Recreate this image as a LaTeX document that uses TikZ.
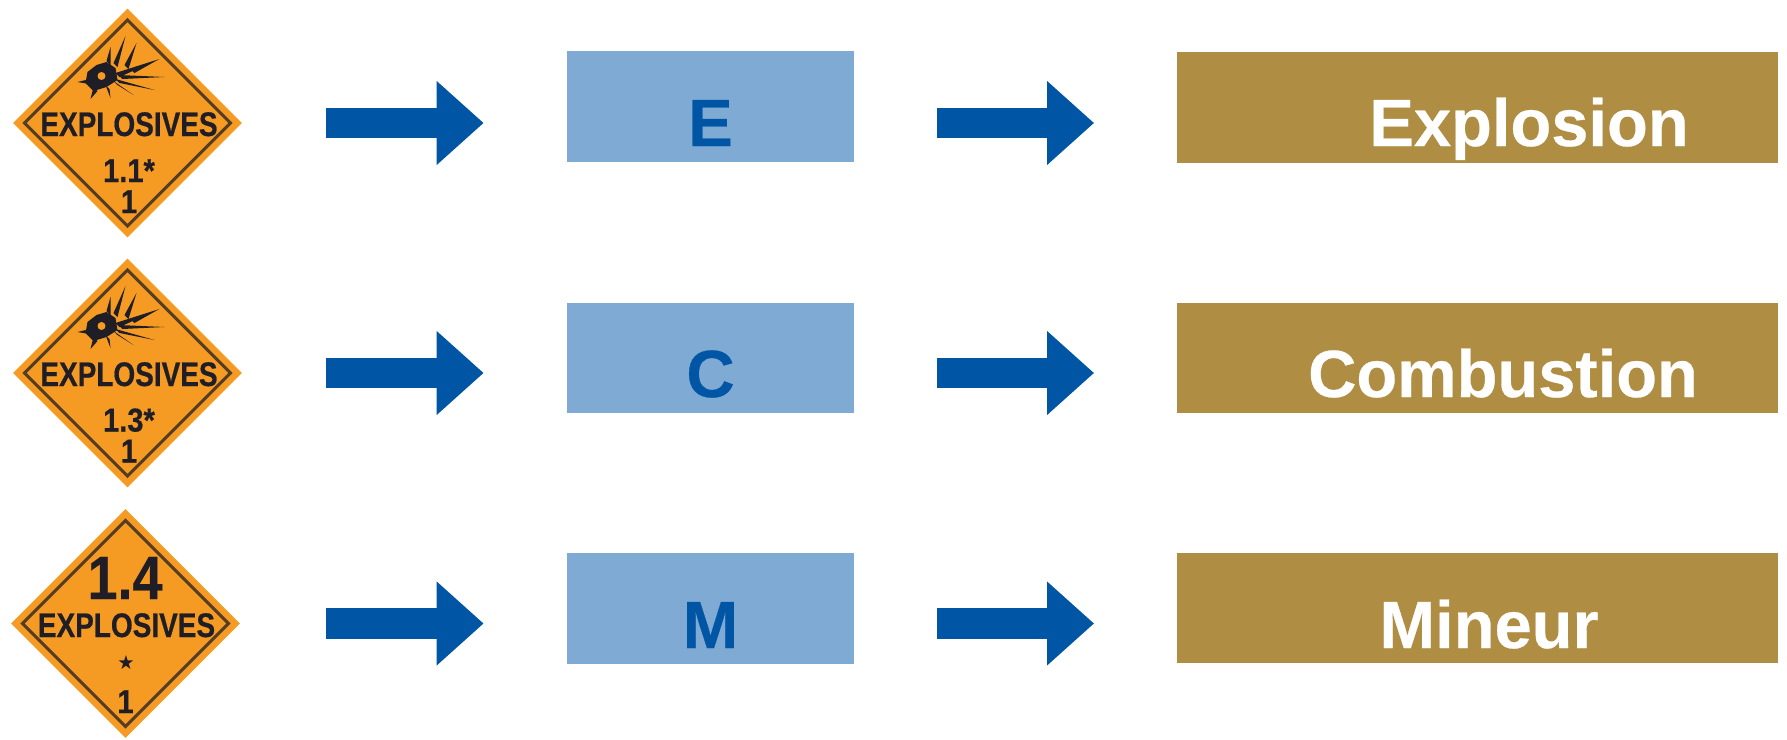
\documentclass[tikz,border=0pt]{standalone}
\usepackage{fontspec}
\setmainfont[BoldFeatures={FakeBold=0.4}]{Liberation Sans}
\newfontfamily\signfont[FakeStretch=0.82,FakeBold=0.5]{Liberation Sans}
\newfontfamily\numfont[FakeStretch=0.88,FakeBold=0.5]{Liberation Sans}
\newfontfamily\starfont{DejaVu Sans}
\usetikzlibrary{arrows.meta,calc,shapes.geometric}

\definecolor{arrowblue}{HTML}{0055A4}
\definecolor{boxblue}{HTML}{7FAAD3}
\definecolor{boxbrown}{HTML}{AF8D43}
\definecolor{signorange}{HTML}{F59A23}
\definecolor{signink}{HTML}{1F1D26}

\tikzset{
  sign/.style={diamond, aspect=1, fill=signorange, inner sep=0pt, minimum size=2.29cm},
  signframe/.style={diamond, aspect=1, draw=signink!75!signorange, line width=0.03cm, inner sep=0pt, minimum size=2.07cm},
  signword/.style={anchor=base, inner sep=0pt, text=signink, font=\signfont\bfseries\fontsize{9.7}{10}\selectfont},
  signnum/.style={anchor=base, inner sep=0pt, text=signink, font=\numfont\bfseries\fontsize{9.4}{10}\selectfont},
  letterbox/.style={fill=boxblue, inner sep=0pt, minimum width=2.86cm, minimum height=1.10cm},
  namebox/.style={fill=boxbrown, inner sep=0pt, minimum width=6.01cm, minimum height=1.10cm},
  lettertext/.style={anchor=base, inner sep=0pt, text=arrowblue, font=\bfseries\fontsize{19}{20}\selectfont},
  nametext/.style={anchor=base, inner sep=0pt, text=white, font=\bfseries\fontsize{19}{20}\selectfont},
  blockarrow/.style={draw=arrowblue, line width=0.30cm,
    -{Triangle[length=0.47cm,width=0.81cm,fill=arrowblue]}},
}

\begin{document}
\begin{tikzpicture}[x=0.01cm,y=-0.01cm]
\useasboundingbox (0,0) rectangle (1787,739);

% signs
\node[sign] (sign1) at (127.5,123) {};
\node[sign] (sign2) at (127.5,373) {};
\node[sign] (sign3) at (125.5,623.5) {};
\foreach \s in {1,2,3}{
  \node[signframe] (frame\s) at (sign\s.center) {};
}

% blast on the first two signs
\foreach \s in {1,2}{
  \begin{scope}[shift={(sign\s.center)}]
    \fill[signink] (-40,-51) -- (-31,-58) -- (-21,-61) -- (-12,-55) -- (-10,-43) -- (-21,-36) -- (-34,-32) -- (-42,-40) -- cycle;
    \fill[signorange] (-26,-47) circle (4);
    \foreach \sx/\sy/\tx/\ty in {-12/-58/-2/-87,-19/-60/-17/-76,-1/-56/9/-80,-10/-48/32/-64,5/-52/30/-63,
      -7/-46/37/-46,-10/-42/27/-33,-12/-40/6/-28,-40/-41/-50/-41,-32/-34/-37/-24,-20/-36/-17/-25}{
      \fill[signink] (\sx-2,\sy-2) -- (\tx,\ty) -- (\sx+2,\sy+2) -- cycle;
    }
  \end{scope}
}

% texts on the signs
\node[signword] (word1) at (129,136) {EXPLOSIVES};
\node[signword] (word2) at (129,386) {EXPLOSIVES};
\node[signword] (word3) at (126.5,637) {EXPLOSIVES};
\node[signnum] (div1) at (129,182) {1.1*};
\node[signnum] (div2) at (129,431.5) {1.3*};
\node[signnum] (grp1) at (129,213) {1};
\node[signnum] (grp2) at (129,462.5) {1};
\node[anchor=base, inner sep=0pt, text=signink, font=\numfont\bfseries\fontsize{17.4}{18}\selectfont] (div3) at (125,599) {1.4};
\node[inner sep=0pt, text=signink, font=\starfont\fontsize{5.5}{6}\selectfont] (star3) at (126,663) {★};
\node[signnum] (grp3) at (125.5,713) {1};

% boxes
\node[letterbox] (letter1) at (710.5,106.5) {};
\node[letterbox] (letter2) at (710.5,358) {};
\node[letterbox] (letter3) at (710.5,608.5) {};
\node[namebox] (name1) at (1477.5,107.5) {};
\node[namebox] (name2) at (1477.5,358) {};
\node[namebox] (name3) at (1477.5,608) {};

\node[lettertext] (e) at (710.5,146) {E};
\node[lettertext] (c) at (710.5,397) {C};
\node[lettertext] (m) at (710.5,648) {M};
\node[nametext] (explosion) at (1529,146) {Explosion};
\node[nametext] (combustion) at (1503,397) {Combustion};
\node[nametext] (mineur) at (1489,648) {Mineur};

% arrows
\foreach \r/\gap in {1/0.83cm,2/0.83cm,3/0.85cm}{
  \draw[blockarrow, shorten <=\gap, shorten >=0.83cm] (sign\r.east) -- (sign\r.east -| letter\r.west);
  \draw[blockarrow, shorten <=0.83cm, shorten >=0.82cm] (letter\r.east |- sign\r.east) -- (name\r.west |- sign\r.east);
}
\end{tikzpicture}
\end{document}
